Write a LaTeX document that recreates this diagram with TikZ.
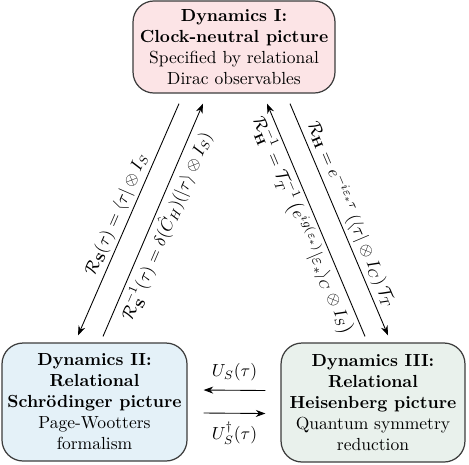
\documentclass[tikz,border=0pt]{standalone}
\usepackage{amsmath,amssymb}
\usetikzlibrary{arrows.meta,calc}
\definecolor{boxred}{RGB}{252,228,230}
\definecolor{boxblue}{RGB}{228,241,248}
\definecolor{boxgreen}{RGB}{233,241,236}
\definecolor{boxline}{RGB}{60,60,60}
\tikzset{
  dynbox/.style={draw=boxline, line width=0.7pt, rounded corners=12pt, align=center, inner sep=2pt},
  conn/.style={-{Stealth[length=5.5pt,width=4pt]}, line width=0.5pt},
  lab/.style={font=\normalsize, inner sep=2pt}
}
\begin{document}
\begin{tikzpicture}[x=0.5714pt,y=-0.5714pt]
\useasboundingbox (0,0) rectangle (469,464);
\node[dynbox, fill=boxred, minimum width=115.4pt, minimum height=52.6pt] (top) at (234,47)
  {\textbf{Dynamics I:}\\ \textbf{Clock-neutral picture}\\ Specified by relational\\ Dirac observables};
\node[dynbox, fill=boxblue, minimum width=105.7pt, minimum height=67.4pt] (left) at (94.5,402)
  {\textbf{Dynamics II:}\\ \textbf{Relational}\\ \textbf{Schr\"odinger picture}\\ Page-Wootters\\ formalism};
\node[dynbox, fill=boxgreen, minimum width=105.1pt, minimum height=68pt] (right) at (373,402.5)
  {\textbf{Dynamics III:}\\ \textbf{Relational}\\ \textbf{Heisenberg picture}\\ Quantum symmetry\\ reduction};
% endpoints
\coordinate (a1s) at ($(top.south)+(-55,10)$);
\coordinate (a1e) at ($(left.north)+(-16.5,-7)$);
\coordinate (a2s) at ($(left.north)+(8.5,-6)$);
\coordinate (a2e) at ($(top.south)+(-31,10)$);
\coordinate (a3s) at ($(right.north)+(-8,-6)$);
\coordinate (a3e) at ($(top.south)+(33,10)$);
\coordinate (a4s) at ($(top.south)+(56,10)$);
\coordinate (a4e) at ($(right.north)+(15,-7)$);
\coordinate (h1s) at ($(right.west)+(-15,-12)$);
\coordinate (h1e) at ($(left.east)+(16,-12)$);
\coordinate (h2s) at ($(left.east)+(16,11)$);
\coordinate (h2e) at ($(right.west)+(-15,11)$);
\draw[conn] (a1s) -- node[lab, sloped, above] {$\mathcal{R}_{\mathbf{S}}(\tau)=\langle\tau|\otimes I_S$} (a1e);
\draw[conn] (a2s) -- node[lab, sloped, below] {$\mathcal{R}^{-1}_{\mathbf{S}}(\tau)=\delta(\hat{C}_H)(|\tau\rangle\otimes I_S)$} (a2e);
\draw[conn] (a3s) -- node[lab, sloped, below] {$\mathcal{R}^{-1}_{\mathbf{H}}=\mathcal{T}_T^{-1}\left(e^{ig(\varepsilon_*)}|\varepsilon_*\rangle_C\otimes I_S\right)$} (a3e);
\draw[conn] (a4s) -- node[lab, sloped, above] {$\mathcal{R}_{\mathbf{H}}=e^{-i\varepsilon_*\tau}\left(\langle\tau|\otimes I_C\right)\mathcal{T}_T$} (a4e);
\draw[conn] (h1s) -- node[lab, above=3pt] {$U_S(\tau)$} (h1e);
\draw[conn] (h2s) -- node[lab, below=3pt] {$U_S^\dagger(\tau)$} (h2e);
\end{tikzpicture}
\end{document}
